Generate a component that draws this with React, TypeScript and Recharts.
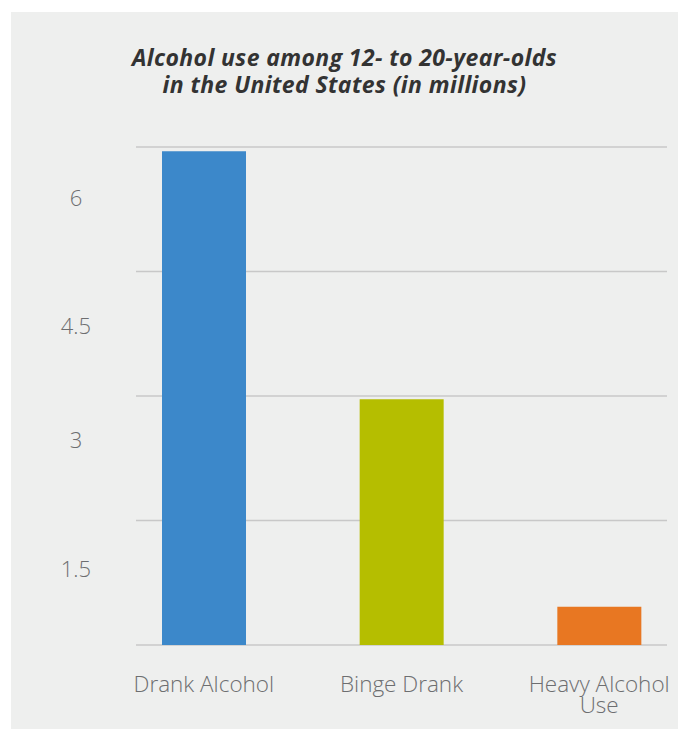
import { BarChart, Bar, XAxis, YAxis, CartesianGrid, Cell } from 'recharts';

const categories = ['Drank Alcohol', 'Binge Drank', 'Heavy Alcohol Use'];
const users = [5.95, 2.96, 0.46];
const barColors = ['#3c88ca', '#b5be00', '#e87722'];

const gridTicks = [0, 1.5, 3, 4.5, 6];
// the printed labels sit below their gridlines in the original
const yLabels = ['1.5', '3', '4.5', '6'];
const yLabelAt = [0.92, 2.47, 3.84, 5.38];

const data = categories.map((name, i) => ({ name, users: users[i] }));

const font = '"Open Sans", "DejaVu Sans", sans-serif';
const chartH = 729;
const marginTop = 147;
const axisH = 60;
const marginBottom = 24;
const pxPerUnit = (chartH - marginTop - axisH - marginBottom) / 6;

function YLabel(props: any) {
  const { x, y, payload } = props;
  const i = yLabels.indexOf(String(payload.value));
  if (i < 0) return null;
  const drop = (payload.value - yLabelAt[i]) * pxPerUnit;
  return (
    <text
      x={x - 52}
      y={y + drop}
      dy="0.36em"
      textAnchor="middle"
      fill="#6d6e70"
      fontFamily={font}
      fontWeight={300}
      fontSize={22}
    >
      {yLabels[i]}
    </text>
  );
}

function wrapLabel(s: string) {
  if (s.length <= 14) return [s];
  const cut = s.lastIndexOf(' ');
  return [s.slice(0, cut), s.slice(cut + 1)];
}

function XLabel(props: any) {
  const { x, y, payload } = props;
  const lines = wrapLabel(payload.value);
  return (
    <text
      x={x}
      y={y + 47}
      textAnchor="middle"
      fill="#6d6e70"
      fontFamily={font}
      fontWeight={300}
      fontSize={22.5}
    >
      {lines.map((ln, i) => (
        <tspan key={ln} x={x} dy={i === 0 ? 0 : 20.5}>
          {ln}
        </tspan>
      ))}
    </text>
  );
}

export default function App() {
  return (
    <div style={{ position: 'fixed', left: 0, top: 0, width: 678, height: 729, background: '#ffffff' }}>
      <div style={{ position: 'absolute', left: 11, top: 12, right: 0, bottom: 0, background: '#eeefee' }} />
      <div
        style={{
          position: 'absolute',
          left: 11,
          top: 44,
          width: 667,
          textAlign: 'center',
          fontFamily: font,
          fontStyle: 'italic',
          fontWeight: 700,
          fontSize: 23,
          letterSpacing: '0.4px',
          lineHeight: '27px',
          color: '#333333',
        }}
      >
        Alcohol use among 12- to 20-year-olds
        <br />
        in the United States (in millions)
      </div>
      <div style={{ position: 'absolute', left: 0, top: 0 }}>
        <BarChart
          width={678}
          height={chartH}
          data={data}
          margin={{ top: marginTop, right: 11, left: 0, bottom: marginBottom }}
        >
          <CartesianGrid vertical={false} stroke="#c8c8c8" strokeWidth={1.5} />
          <XAxis
            dataKey="name"
            height={axisH}
            padding={{ left: -31, right: -31 }}
            axisLine={false}
            tickLine={false}
            tickSize={0}
            tickMargin={0}
            interval={0}
            tick={<XLabel />}
          />
          <YAxis
            width={136}
            domain={[0, 6]}
            ticks={gridTicks}
            interval={0}
            axisLine={false}
            tickLine={false}
            tick={<YLabel />}
          />
          <Bar dataKey="users" barSize={84} isAnimationActive={false}>
            {data.map((d, i) => (
              <Cell key={d.name} fill={barColors[i]} />
            ))}
          </Bar>
        </BarChart>
      </div>
    </div>
  );
}
